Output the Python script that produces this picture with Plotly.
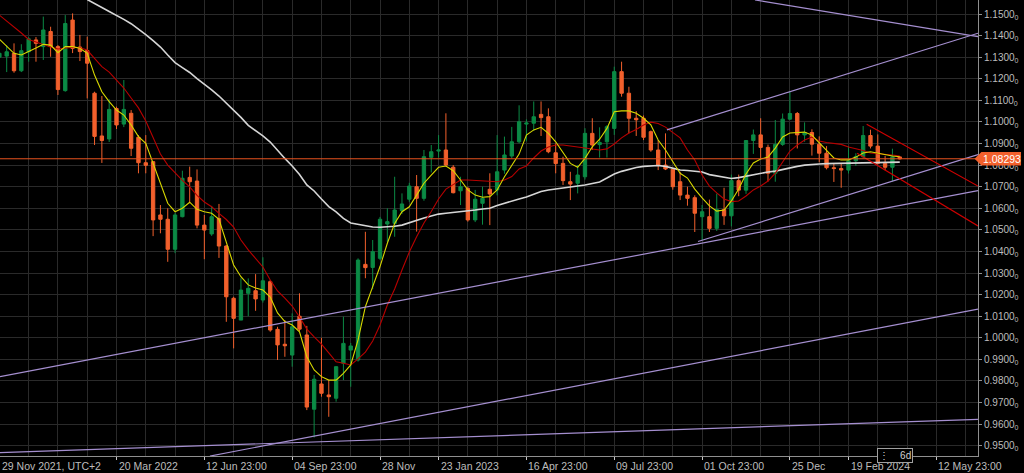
import pandas as pd
import plotly.graph_objects as go

# ---------------- data (EUR/USD weekly, UTC+2) ----------------
bar_dates = pd.date_range("2021-11-28 23:00", periods=124, freq="7D")

open_ = [1.1300, 1.1305, 1.1318, 1.1237, 1.1325, 1.1380, 1.1349, 1.1419, 1.1349, 1.1145,
         1.1472, 1.1347, 1.1331, 1.1133, 1.0935, 1.0921, 1.1062, 1.0990, 1.1040, 1.0929,
         1.0811, 1.0816, 1.0569, 1.0549, 1.0410, 1.0561, 1.0743, 1.0726, 1.0522, 1.0481,
         1.0553, 1.0425, 1.0183, 1.0082, 1.0206, 1.0218, 1.0175, 1.0260, 1.0039, 0.9970,
         0.9920, 1.0100, 1.0013, 0.9669, 0.9786, 0.9735, 0.9720, 0.9882, 0.9943, 0.9897,
         1.0340, 1.0326, 1.0368, 1.0527, 1.0530, 1.0589, 1.0642, 1.0700, 1.0646, 1.0836,
         1.0865, 1.0870, 1.0790, 1.0681, 1.0692, 1.0546, 1.0623, 1.0688, 1.0685, 1.0777,
         1.0842, 1.0908, 1.0990, 1.0994, 1.1035, 1.1024, 1.0857, 1.0808, 1.0723, 1.0716,
         1.0746, 1.0947, 1.0895, 1.0908, 1.0970, 1.1233, 1.1133, 1.1017, 1.1017, 1.0955,
         1.0870, 1.0800, 1.0781, 1.0723, 1.0661, 1.0649, 1.0561, 1.0561, 1.0507, 1.0594,
         1.0565, 1.0728, 1.0684, 1.0914, 1.0940, 1.0882, 1.0762, 1.0896, 1.1013, 1.1039,
         1.0940, 1.0951, 1.0897, 1.0855, 1.0788, 1.0784, 1.0777, 1.0820, 1.0839, 1.0937,
         1.0888, 1.0808, 1.0790, 1.0838]
high = [1.1383, 1.1355, 1.1364, 1.1360, 1.1393, 1.1393, 1.1488, 1.1441, 1.1356, 1.1495,
        1.1503, 1.1403, 1.1395, 1.1140, 1.1120, 1.1105, 1.1071, 1.1194, 1.1055, 1.0939,
        1.0939, 1.0819, 1.0615, 1.0600, 1.0578, 1.0774, 1.0793, 1.0780, 1.0569, 1.0611,
        1.0620, 1.0430, 1.0190, 1.0276, 1.0275, 1.0295, 1.0373, 1.0268, 1.0051, 1.0082,
        1.0113, 1.0206, 1.0055, 0.9828, 1.0000, 0.9804, 0.9869, 1.0098, 0.9976, 1.0368,
        1.0491, 1.0453, 1.0560, 1.0600, 1.0746, 1.0669, 1.0718, 1.0754, 1.0870, 1.0893,
        1.0939, 1.1040, 1.0800, 1.0746, 1.0700, 1.0685, 1.0700, 1.0762, 1.0939, 1.0932,
        1.0977, 1.1077, 1.1012, 1.1095, 1.1095, 1.1063, 1.0901, 1.0839, 1.0769, 1.0800,
        1.0971, 1.1017, 1.0975, 1.0985, 1.1256, 1.1279, 1.1163, 1.1050, 1.1030, 1.0960,
        1.0916, 1.0947, 1.0785, 1.0769, 1.0700, 1.0660, 1.0615, 1.0640, 1.0668, 1.0695,
        1.0756, 1.0756, 1.0914, 1.0965, 1.1017, 1.0895, 1.1009, 1.1039, 1.1140, 1.1046,
        1.0998, 1.0966, 1.0933, 1.0888, 1.0806, 1.0806, 1.0888, 1.0855, 1.0981, 1.0964,
        1.0942, 1.0843, 1.0876, 1.0840]
low = [1.1235, 1.1231, 1.1228, 1.1231, 1.1279, 1.1279, 1.1287, 1.1302, 1.1125, 1.1140,
       1.1319, 1.1282, 1.1109, 1.0893, 1.0810, 1.0907, 1.0967, 1.0976, 1.0842, 1.0762,
       1.0762, 1.0471, 1.0484, 1.0352, 1.0392, 1.0558, 1.0623, 1.0507, 1.0364, 1.0472,
       1.0370, 1.0074, 0.9951, 1.0082, 1.0100, 1.0125, 1.0163, 1.0028, 0.9897, 0.9912,
       0.9866, 1.0031, 0.9665, 0.9538, 0.9727, 0.9634, 0.9704, 0.9804, 0.9773, 0.9890,
       1.0276, 1.0225, 1.0360, 1.0443, 1.0468, 1.0574, 1.0630, 1.0492, 1.0635, 1.0766,
       1.0835, 1.0796, 1.0669, 1.0615, 1.0538, 1.0536, 1.0524, 1.0522, 1.0660, 1.0760,
       1.0831, 1.0901, 1.0910, 1.0960, 1.0935, 1.0855, 1.0762, 1.0708, 1.0638, 1.0669,
       1.0733, 1.0870, 1.0835, 1.0835, 1.0940, 1.1117, 1.0947, 1.0935, 1.0916, 1.0862,
       1.0777, 1.0777, 1.0686, 1.0638, 1.0612, 1.0490, 1.0453, 1.0490, 1.0495, 1.0523,
       1.0516, 1.0656, 1.0667, 1.0852, 1.0828, 1.0724, 1.0723, 1.0889, 1.1009, 1.0877,
       1.0908, 1.0844, 1.0813, 1.0780, 1.0722, 1.0695, 1.0761, 1.0796, 1.0831, 1.0877,
       1.0802, 1.0776, 1.0724, 1.0826]
close = [1.1318, 1.1325, 1.1237, 1.1330, 1.1385, 1.1364, 1.1426, 1.1349, 1.1150, 1.1456,
         1.1341, 1.1326, 1.1272, 1.0933, 1.0914, 1.1058, 1.0986, 1.1058, 1.0878, 1.0811,
         1.0799, 1.0546, 1.0549, 1.0410, 1.0569, 1.0739, 1.0723, 1.0522, 1.0499, 1.0561,
         1.0425, 1.0190, 1.0090, 1.0221, 1.0229, 1.0180, 1.0264, 1.0036, 0.9967, 0.9963,
         1.0051, 1.0040, 0.9679, 0.9808, 0.9743, 0.9727, 0.9866, 0.9974, 0.9962, 1.0360,
         1.0325, 1.0399, 1.0549, 1.0538, 1.0592, 1.0620, 1.0703, 1.0646, 1.0839, 1.0862,
         1.0870, 1.0800, 1.0672, 1.0700, 1.0546, 1.0642, 1.0646, 1.0666, 1.0769, 1.0847,
         1.0908, 1.1001, 1.0995, 1.1024, 1.1020, 1.0862, 1.0807, 1.0728, 1.0712, 1.0754,
         1.0947, 1.0893, 1.0905, 1.0978, 1.1233, 1.1133, 1.1017, 1.1010, 1.0929, 1.0870,
         1.0800, 1.0782, 1.0700, 1.0661, 1.0646, 1.0577, 1.0584, 1.0507, 1.0594, 1.0565,
         1.0728, 1.0684, 1.0914, 1.0940, 1.0882, 1.0762, 1.0896, 1.1013, 1.1039, 1.0940,
         1.0951, 1.0897, 1.0855, 1.0788, 1.0784, 1.0777, 1.0820, 1.0839, 1.0937, 1.0888,
         1.0808, 1.0790, 1.0838, 1.0829]

ma_fast = [1.1384, 1.1349, 1.1318, 1.1310, 1.1325, 1.1342, 1.1360, 1.1356, 1.1321, 1.1349,
           1.1349, 1.1341, 1.1318, 1.1217, 1.1140, 1.1094, 1.1055, 1.1032, 1.0986, 1.0932,
           1.0901, 1.0808, 1.0708, 1.0623, 1.0584, 1.0600, 1.0628, 1.0595, 1.0584, 1.0577,
           1.0549, 1.0438, 1.0337, 1.0283, 1.0245, 1.0231, 1.0221, 1.0189, 1.0115, 1.0075,
           1.0059, 1.0028, 0.9912, 0.9851, 0.9820, 0.9804, 0.9804, 0.9835, 0.9874, 0.9990,
           1.0144, 1.0237, 1.0330, 1.0438, 1.0530, 1.0584, 1.0607, 1.0661, 1.0716, 1.0754,
           1.0790, 1.0796, 1.0774, 1.0731, 1.0685, 1.0661, 1.0651, 1.0654, 1.0685, 1.0746,
           1.0800, 1.0851, 1.0939, 1.0963, 1.0975, 1.0947, 1.0908, 1.0855, 1.0808, 1.0790,
           1.0831, 1.0885, 1.0920, 1.0970, 1.1047, 1.1051, 1.1051, 1.1040, 1.1017, 1.0986,
           1.0916, 1.0870, 1.0816, 1.0762, 1.0740, 1.0689, 1.0648, 1.0611, 1.0587, 1.0592,
           1.0634, 1.0689, 1.0759, 1.0810, 1.0828, 1.0837, 1.0879, 1.0930, 1.0949, 1.0951,
           1.0953, 1.0939, 1.0902, 1.0865, 1.0833, 1.0824, 1.0824, 1.0837, 1.0856, 1.0862,
           1.0856, 1.0847, 1.0842, 1.0839]
ma_mid = [1.1495, 1.1468, 1.1440, 1.1412, 1.1382, 1.1370, 1.1356, 1.1347, 1.1338, 1.1342,
          1.1346, 1.1344, 1.1333, 1.1295, 1.1256, 1.1231, 1.1194, 1.1157, 1.1111, 1.1065,
          1.1004, 1.0928, 1.0851, 1.0800, 1.0762, 1.0729, 1.0699, 1.0660, 1.0629, 1.0607,
          1.0576, 1.0548, 1.0513, 1.0453, 1.0407, 1.0370, 1.0328, 1.0268, 1.0217, 1.0184,
          1.0147, 1.0096, 1.0040, 1.0004, 0.9971, 0.9930, 0.9889, 0.9882, 0.9874, 0.9902,
          0.9934, 0.9985, 1.0059, 1.0152, 1.0226, 1.0314, 1.0397, 1.0468, 1.0532, 1.0585,
          1.0643, 1.0689, 1.0712, 1.0731, 1.0731, 1.0729, 1.0726, 1.0723, 1.0723, 1.0731,
          1.0747, 1.0782, 1.0796, 1.0833, 1.0865, 1.0884, 1.0893, 1.0893, 1.0888, 1.0882,
          1.0878, 1.0872, 1.0870, 1.0875, 1.0898, 1.0926, 1.0949, 1.0965, 1.0986, 1.0999,
          1.0993, 1.0976, 1.0953, 1.0926, 1.0870, 1.0824, 1.0754, 1.0703, 1.0671, 1.0643,
          1.0631, 1.0634, 1.0657, 1.0685, 1.0703, 1.0726, 1.0763, 1.0814, 1.0865, 1.0893,
          1.0916, 1.0930, 1.0912, 1.0905, 1.0902, 1.0896, 1.0884, 1.0877, 1.0868, 1.0856,
          1.0854, 1.0851, 1.0847, 1.0842]
ma_slow = [None] * 12 + [
           1.1567, 1.1547, 1.1530, 1.1512, 1.1495, 1.1475, 1.1455, 1.1431, 1.1405, 1.1377,
           1.1347, 1.1310, 1.1275, 1.1252, 1.1229, 1.1201, 1.1176, 1.1148, 1.1120, 1.1088,
           1.1055, 1.1021, 1.0984, 1.0960, 1.0935, 1.0907, 1.0868, 1.0831, 1.0796, 1.0756,
           1.0708, 1.0680, 1.0643, 1.0608, 1.0583, 1.0553, 1.0532, 1.0525, 1.0518, 1.0513,
           1.0512, 1.0513, 1.0517, 1.0522, 1.0534, 1.0546, 1.0555, 1.0564, 1.0573, 1.0577,
           1.0580, 1.0584, 1.0587, 1.0592, 1.0597, 1.0600, 1.0613, 1.0624, 1.0634, 1.0643,
           1.0652, 1.0666, 1.0678, 1.0685, 1.0689, 1.0694, 1.0697, 1.0703, 1.0708, 1.0715,
           1.0722, 1.0740, 1.0759, 1.0771, 1.0780, 1.0789, 1.0794, 1.0796, 1.0798, 1.0794,
           1.0787, 1.0777, 1.0775, 1.0770, 1.0768, 1.0756, 1.0749, 1.0742, 1.0738, 1.0742,
           1.0749, 1.0756, 1.0761, 1.0768, 1.0772, 1.0780, 1.0787, 1.0794, 1.0800, 1.0804,
           1.0805, 1.0807, 1.0808, 1.0808, 1.0809, 1.0810, 1.0811, 1.0811, 1.0812, 1.0813,
           1.0813, 1.0814]

# drawn trend lines: (start date, start price, end date, end price)
trend_start_dates = ["2023-11-21 13:00", "2023-08-29 08:00", "2023-09-28 01:00",
                     "2021-11-29 13:10", "2022-06-18 08:00", "2021-11-29 13:10"]
trend_start_prices = [1.1565, 1.0963, 1.0446, 0.9820, 0.9452, 0.9468]
trend_end_dates = ["2024-06-21 18:00"] * 6
trend_end_prices = [1.1395, 1.1411, 1.0849, 1.0682, 1.0133, 0.9622]

channel_start_dates = ["2024-03-07 08:00", "2024-02-27 06:00"]
channel_start_prices = [1.0989, 1.0855]
channel_end_dates = ["2024-06-21 18:00", "2024-06-21 18:00"]
channel_end_prices = [1.0703, 1.0518]

last_price = 1.08293
time_left = "6d"

y_tick_vals = [0.95, 0.96, 0.97, 0.98, 0.99, 1.00, 1.01, 1.02, 1.03, 1.04, 1.05,
               1.06, 1.07, 1.08, 1.09, 1.10, 1.11, 1.12, 1.13, 1.14, 1.15]
y_tick_labels = ["0.9500", "0.9600", "0.9700", "0.9800", "0.9900", "1.0000", "1.0100",
                 "1.0200", "1.0300", "1.0400", "1.0500", "1.0600", "1.0700", "1.0800",
                 "1.0900", "1.1000", "1.1100", "1.1200", "1.1300", "1.1400", "1.1500"]

x_tick_dates = ["2022-03-20 23:00", "2022-06-12 23:00", "2022-09-04 23:00",
                "2022-11-28 00:00", "2023-01-23 00:00", "2023-04-16 23:00",
                "2023-07-09 23:00", "2023-10-01 23:00", "2023-12-25 00:00",
                "2024-02-19 00:00", "2024-05-12 23:00"]
x_tick_labels = ["20 Mar 2022", "12 Jun 23:00", "04 Sep 23:00", "28 Nov", "23 Jan 2023",
                 "16 Apr 23:00", "09 Jul 23:00", "01 Oct 23:00", "25 Dec", "19 Feb 2024",
                 "12 May 23:00"]
first_label = "29 Nov 2021, UTC+2"

# ---------------- styles ----------------
BG = "#000000"
GRID = "#2a2a2a"
AXIS = "#8f8f8f"
TXT = "#bdbdbd"
UP = "#0b8a45"
DOWN = "#f2602c"
X_RANGE = ["2021-11-29 13:10", "2024-06-21 19:00"]
Y_RANGE = [0.94523, 1.15649]

fig = go.Figure()

fig.add_trace(go.Candlestick(
    x=bar_dates, open=open_, high=high, low=low, close=close,
    increasing=dict(line=dict(color=UP, width=1), fillcolor=UP),
    decreasing=dict(line=dict(color=DOWN, width=1), fillcolor=DOWN),
    whiskerwidth=0, hoverinfo="skip", showlegend=False))

fig.add_trace(go.Scatter(x=bar_dates, y=ma_slow, mode="lines",
                         line=dict(color="#d6d6d6", width=1.6), hoverinfo="skip", showlegend=False))
fig.add_trace(go.Scatter(x=bar_dates, y=ma_mid, mode="lines",
                         line=dict(color="#b80000", width=1.1), hoverinfo="skip", showlegend=False))
fig.add_trace(go.Scatter(x=bar_dates, y=ma_fast, mode="lines",
                         line=dict(color="#d8d800", width=1.1), hoverinfo="skip", showlegend=False))

for x0, y0, x1, y1 in zip(trend_start_dates, trend_start_prices, trend_end_dates, trend_end_prices):
    fig.add_trace(go.Scatter(x=[x0, x1], y=[y0, y1], mode="lines",
                             line=dict(color="#a58fd0", width=1.2), hoverinfo="skip", showlegend=False))
for x0, y0, x1, y1 in zip(channel_start_dates, channel_start_prices, channel_end_dates, channel_end_prices):
    fig.add_trace(go.Scatter(x=[x0, x1], y=[y0, y1], mode="lines",
                             line=dict(color="#d00000", width=1.2), hoverinfo="skip", showlegend=False))

# current price line and label
fig.add_shape(type="line", xref="paper", x0=0, x1=1, yref="y", y0=last_price, y1=last_price,
              line=dict(color="#e8521e", width=1))
fig.add_shape(type="path", xref="paper", yref="y", layer="above",
              path="M 0.9965,{m} L 1.0035,{t} L 1.0440,{t} L 1.0440,{b} L 1.0035,{b} Z".format(
                  m=last_price, t=last_price + 0.0031, b=last_price - 0.0031),
              fillcolor="#f2602c", line=dict(width=0))
fig.add_annotation(xref="paper", x=1.0035, yref="y", y=last_price, xanchor="left",
                   text="{:.5f}".format(last_price), showarrow=False,
                   font=dict(family="Liberation Sans, Arial", size=10.5, color="#ffffff"))

# x-axis labels (left-aligned at their tick)
for d, t in zip(x_tick_dates, x_tick_labels):
    fig.add_annotation(x=d, xref="x", y=0, yref="paper", yanchor="top", xanchor="left",
                       yshift=-2, xshift=0, text=t, showarrow=False,
                       font=dict(family="Liberation Sans, Arial", size=10.5, color=TXT))
fig.add_annotation(x=0, xref="paper", y=0, yref="paper", yanchor="top", xanchor="left",
                   yshift=-2, xshift=0, text=first_label, showarrow=False,
                   font=dict(family="Liberation Sans, Arial", size=10.5, color=TXT))

# remaining bar time badge
fig.add_annotation(x="2024-04-03 10:00", xref="x", y=0, yref="paper", yanchor="middle",
                   xanchor="center", yshift=1, text="\u22ee    " + time_left, showarrow=False,
                   bgcolor=BG, bordercolor="#a0a0a0", borderwidth=1, borderpad=1,
                   font=dict(family="Liberation Sans, Arial", size=10, color="#d0d0d0"))

fig.update_layout(
    width=1024, height=473,
    margin=dict(l=0, r=46, t=0, b=17),
    paper_bgcolor=BG, plot_bgcolor=BG,
    boxgap=0.35,
    showlegend=False,
    xaxis=dict(type="date", range=X_RANGE, rangeslider=dict(visible=False),
               tickvals=x_tick_dates, ticktext=[""] * len(x_tick_dates), showticklabels=False,
               ticks="outside", ticklen=3, tickcolor="#c8c8c8",
               showgrid=True, gridcolor=GRID, gridwidth=1,
               minor=dict(tick0="2022-03-20 23:00", dtick=28 * 24 * 3600 * 1000,
                          showgrid=True, gridcolor=GRID, gridwidth=1, ticks=""),
               showline=True, linecolor=AXIS, linewidth=1, zeroline=False, fixedrange=True),
    yaxis=dict(side="right", range=Y_RANGE, tickvals=y_tick_vals,
               ticktext=[s + "<sub>0</sub>" for s in y_tick_labels],
               tickfont=dict(family="Liberation Sans, Arial", size=10, color=TXT),
               ticks="outside", ticklen=3, tickcolor=AXIS,
               showgrid=True, gridcolor=GRID, gridwidth=1,
               showline=True, linecolor=AXIS, linewidth=1, zeroline=False, fixedrange=True),
)

fig.write_html("out.html", config={"displayModeBar": False},
               post_script="document.body.style.margin='0px';")
